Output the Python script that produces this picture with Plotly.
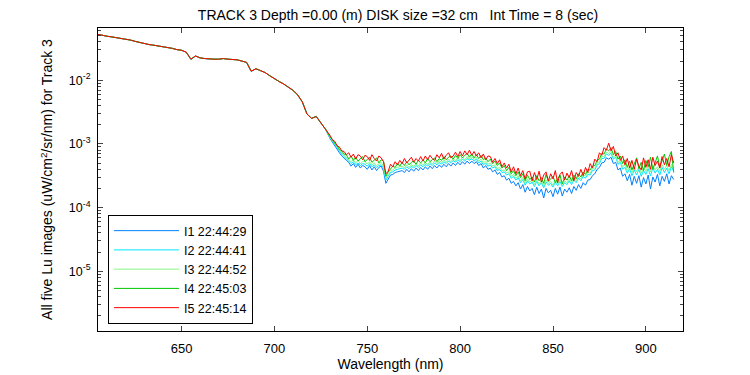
import plotly.graph_objects as go

# Wavelength grids (nm): coarse where all five images overlap, finer in the noisy part
wl_shared = [605 + 2.5 * i for i in range(50)]        # 605 .. 727.5
wl_noisy = [730 + 1.25 * j for j in range(149)]       # 730 .. 915

# log10(Lu) common to all images (605-727.5 nm)
shared_log = [-1.28, -1.30, -1.31, -1.32, -1.33, -1.35, -1.36, -1.37, -1.39, -1.41,
              -1.43, -1.44, -1.45, -1.46, -1.48, -1.49, -1.50, -1.52, -1.53, -1.56,
              -1.67, -1.62, -1.65, -1.66, -1.67, -1.67, -1.67, -1.66, -1.67, -1.67,
              -1.68, -1.70, -1.72, -1.86, -1.82, -1.85, -1.88, -1.93, -1.98, -2.02,
              -2.06, -2.11, -2.16, -2.23, -2.34, -2.53, -2.60, -2.57, -2.67, -2.77]

# log10(Lu) per image, 730-915 nm
I1_log = [-2.92, -2.98, -3.03, -3.09, -3.14, -3.19, -3.23, -3.26,
          -3.29, -3.35, -3.31, -3.37, -3.32, -3.38, -3.34, -3.36,
          -3.40, -3.34, -3.41, -3.36, -3.42, -3.37, -3.35, -3.43,
          -3.62, -3.55, -3.49, -3.48, -3.45, -3.44, -3.43, -3.42,
          -3.45, -3.40, -3.44, -3.39, -3.43, -3.38, -3.42, -3.37,
          -3.41, -3.36, -3.40, -3.35, -3.39, -3.34, -3.38, -3.33,
          -3.37, -3.32, -3.36, -3.31, -3.35, -3.30, -3.34, -3.29,
          -3.33, -3.28, -3.32, -3.27, -3.31, -3.27, -3.31, -3.28,
          -3.34, -3.31, -3.38, -3.34, -3.40, -3.38, -3.44, -3.41,
          -3.48, -3.45, -3.52, -3.50, -3.57, -3.54, -3.62, -3.59,
          -3.66, -3.61, -3.71, -3.64, -3.76, -3.67, -3.74, -3.70,
          -3.80, -3.68, -3.78, -3.71, -3.85, -3.70, -3.77, -3.73,
          -3.83, -3.70, -3.79, -3.68, -3.82, -3.71, -3.76, -3.69,
          -3.78, -3.67, -3.73, -3.64, -3.70, -3.61, -3.65, -3.57,
          -3.56, -3.50, -3.47, -3.40, -3.37, -3.30, -3.29, -3.22,
          -3.24, -3.21, -3.31, -3.29, -3.41, -3.38, -3.51, -3.47,
          -3.58, -3.48, -3.65, -3.51, -3.62, -3.50, -3.68, -3.53,
          -3.63, -3.49, -3.71, -3.52, -3.60, -3.48, -3.66, -3.51,
          -3.59, -3.47, -3.63, -3.50, -3.56]
I2_log = [-2.91, -2.96, -3.01, -3.07, -3.12, -3.16, -3.20, -3.23,
          -3.27, -3.31, -3.28, -3.33, -3.30, -3.34, -3.31, -3.32,
          -3.35, -3.31, -3.36, -3.33, -3.37, -3.34, -3.33, -3.38,
          -3.57, -3.51, -3.45, -3.44, -3.41, -3.40, -3.39, -3.38,
          -3.40, -3.36, -3.39, -3.35, -3.38, -3.34, -3.37, -3.33,
          -3.36, -3.32, -3.35, -3.31, -3.34, -3.30, -3.33, -3.29,
          -3.32, -3.28, -3.31, -3.27, -3.30, -3.26, -3.29, -3.25,
          -3.28, -3.24, -3.27, -3.23, -3.26, -3.23, -3.27, -3.24,
          -3.30, -3.27, -3.33, -3.30, -3.35, -3.33, -3.38, -3.36,
          -3.42, -3.40, -3.45, -3.44, -3.49, -3.47, -3.54, -3.51,
          -3.57, -3.53, -3.61, -3.56, -3.65, -3.58, -3.63, -3.60,
          -3.67, -3.59, -3.66, -3.61, -3.69, -3.60, -3.65, -3.62,
          -3.68, -3.60, -3.66, -3.59, -3.67, -3.61, -3.64, -3.58,
          -3.64, -3.57, -3.61, -3.54, -3.58, -3.51, -3.54, -3.48,
          -3.49, -3.42, -3.41, -3.33, -3.31, -3.23, -3.23, -3.16,
          -3.18, -3.15, -3.24, -3.21, -3.32, -3.29, -3.40, -3.37,
          -3.46, -3.39, -3.50, -3.41, -3.49, -3.40, -3.51, -3.42,
          -3.48, -3.39, -3.50, -3.38, -3.46, -3.40, -3.49, -3.37,
          -3.45, -3.38, -3.47, -3.36, -3.43]
I3_log = [-2.90, -2.95, -3.00, -3.05, -3.10, -3.14, -3.18, -3.21,
          -3.24, -3.28, -3.25, -3.30, -3.26, -3.31, -3.28, -3.27,
          -3.32, -3.28, -3.33, -3.30, -3.34, -3.31, -3.29, -3.35,
          -3.54, -3.48, -3.42, -3.41, -3.38, -3.37, -3.36, -3.35,
          -3.38, -3.33, -3.37, -3.32, -3.36, -3.31, -3.35, -3.30,
          -3.34, -3.29, -3.33, -3.28, -3.32, -3.27, -3.31, -3.26,
          -3.30, -3.25, -3.29, -3.24, -3.28, -3.23, -3.27, -3.22,
          -3.26, -3.21, -3.25, -3.20, -3.24, -3.20, -3.24, -3.21,
          -3.27, -3.24, -3.30, -3.27, -3.32, -3.30, -3.35, -3.33,
          -3.39, -3.37, -3.42, -3.41, -3.46, -3.44, -3.51, -3.48,
          -3.54, -3.50, -3.58, -3.53, -3.62, -3.55, -3.60, -3.57,
          -3.64, -3.56, -3.63, -3.58, -3.66, -3.57, -3.62, -3.59,
          -3.65, -3.57, -3.63, -3.56, -3.64, -3.58, -3.61, -3.55,
          -3.61, -3.54, -3.58, -3.51, -3.55, -3.48, -3.51, -3.45,
          -3.46, -3.39, -3.38, -3.30, -3.28, -3.20, -3.20, -3.13,
          -3.15, -3.12, -3.21, -3.18, -3.29, -3.26, -3.36, -3.33,
          -3.42, -3.35, -3.45, -3.37, -3.44, -3.36, -3.46, -3.38,
          -3.43, -3.35, -3.44, -3.34, -3.41, -3.36, -3.43, -3.33,
          -3.40, -3.34, -3.42, -3.32, -3.39]
I4_log = [-2.89, -2.93, -2.99, -3.03, -3.09, -3.11, -3.16, -3.17,
          -3.24, -3.19, -3.26, -3.21, -3.27, -3.23, -3.20, -3.28,
          -3.24, -3.21, -3.29, -3.26, -3.22, -3.30, -3.25, -3.27,
          -3.51, -3.44, -3.39, -3.35, -3.37, -3.31, -3.35, -3.29,
          -3.34, -3.28, -3.33, -3.29, -3.27, -3.32, -3.26, -3.30,
          -3.25, -3.30, -3.23, -3.28, -3.25, -3.22, -3.28, -3.23,
          -3.26, -3.20, -3.25, -3.21, -3.19, -3.24, -3.18, -3.23,
          -3.17, -3.22, -3.18, -3.15, -3.21, -3.16, -3.22, -3.17,
          -3.23, -3.18, -3.25, -3.22, -3.28, -3.24, -3.31, -3.27,
          -3.34, -3.30, -3.38, -3.34, -3.42, -3.37, -3.47, -3.42,
          -3.50, -3.44, -3.53, -3.47, -3.58, -3.49, -3.56, -3.52,
          -3.60, -3.50, -3.58, -3.53, -3.62, -3.48, -3.59, -3.54,
          -3.51, -3.61, -3.55, -3.49, -3.63, -3.52, -3.57, -3.50,
          -3.58, -3.49, -3.55, -3.47, -3.52, -3.44, -3.48, -3.40,
          -3.41, -3.35, -3.34, -3.26, -3.24, -3.15, -3.16, -3.08,
          -3.11, -3.06, -3.17, -3.12, -3.24, -3.19, -3.31, -3.25,
          -3.37, -3.27, -3.41, -3.30, -3.22, -3.39, -3.29, -3.42,
          -3.26, -3.36, -3.21, -3.40, -3.30, -3.19, -3.37, -3.25,
          -3.16, -3.34, -3.20, -3.12, -3.45]
I5_log = [-2.87, -2.94, -2.96, -3.03, -3.05, -3.11, -3.12, -3.17,
          -3.14, -3.21, -3.16, -3.24, -3.17, -3.19, -3.25, -3.18,
          -3.20, -3.26, -3.17, -3.23, -3.27, -3.19, -3.22, -3.28,
          -3.47, -3.43, -3.32, -3.36, -3.28, -3.33, -3.26, -3.31,
          -3.23, -3.30, -3.25, -3.21, -3.29, -3.23, -3.27, -3.20,
          -3.27, -3.19, -3.25, -3.18, -3.23, -3.26, -3.17, -3.22,
          -3.15, -3.24, -3.18, -3.14, -3.22, -3.19, -3.13, -3.20,
          -3.12, -3.19, -3.11, -3.17, -3.10, -3.18, -3.12, -3.19,
          -3.14, -3.22, -3.16, -3.25, -3.19, -3.20, -3.29, -3.23,
          -3.31, -3.25, -3.36, -3.30, -3.38, -3.32, -3.44, -3.36,
          -3.47, -3.38, -3.50, -3.42, -3.55, -3.44, -3.43, -3.58,
          -3.45, -3.56, -3.43, -3.60, -3.49, -3.44, -3.58, -3.47,
          -3.55, -3.42, -3.61, -3.48, -3.44, -3.57, -3.46, -3.53,
          -3.42, -3.58, -3.45, -3.51, -3.40, -3.50, -3.37, -3.45,
          -3.31, -3.38, -3.24, -3.28, -3.14, -3.18, -3.06, -3.10,
          -2.99, -3.11, -3.04, -3.19, -3.14, -3.26, -3.19, -3.33,
          -3.23, -3.38, -3.26, -3.40, -3.24, -3.35, -3.41, -3.22,
          -3.37, -3.25, -3.40, -3.21, -3.34, -3.27, -3.38, -3.20,
          -3.33, -3.23, -3.36, -3.17, -3.30]

names = ["I1 22:44:29", "I2 22:44:41", "I3 22:44:52", "I4 22:45:03", "I5 22:45:14"]
colors = ["#0080ff", "#00e8ff", "#88f888", "#00c800", "#ff0000"]
series = [I1_log, I2_log, I3_log, I4_log, I5_log]
for s in series:
    assert len(s) == len(wl_noisy), len(s)

y_tickvals = [1e-5, 1e-4, 1e-3, 1e-2]
y_ticktext = ["10<sup>-5</sup>", "10<sup>-4</sup>", "10<sup>-3</sup>", "10<sup>-2</sup>"]
x_tickvals = [650, 700, 750, 800, 850, 900]

fig = go.Figure()
for name, col, s in zip(names, colors, series):
    fig.add_trace(go.Scatter(
        x=wl_shared + wl_noisy, y=[10 ** v for v in shared_log + s],
        mode="lines", name=name, line=dict(color=col, width=1)))

font = "Liberation Sans, Arial, sans-serif"
# the page body adds an 8px offset, so the figure is 742x367 inside the 750x375 window
fig.update_layout(
    width=742, height=367,
    margin=dict(l=90, r=67, t=20, b=44),
    paper_bgcolor="white", plot_bgcolor="white",
    font=dict(family=font, size=13, color="black"),
    title=dict(text="TRACK 3 Depth =0.00 (m) DISK size =32 cm   Int Time = 8 (sec)",
               x=0.5256, xanchor="center", y=0.982, yanchor="middle",
               font=dict(size=14)),
    xaxis=dict(range=[605, 920], tickvals=x_tickvals, ticks="inside", ticklen=5,
               showline=True, linecolor="black", linewidth=1, mirror="ticks",
               showgrid=False, zeroline=False, automargin=False, ticklabelstandoff=5,
               title=dict(text="Wavelength (nm)", standoff=4, font=dict(size=14)),
               tickfont=dict(size=13)),
    yaxis=dict(type="log", range=[-5.94, -1.18], tickvals=y_tickvals, ticktext=y_ticktext,
               ticks="inside", ticklen=5, ticklabelstandoff=4,
               minor=dict(ticks="inside", ticklen=3, dtick="D1", showgrid=False),
               showline=True, linecolor="black", linewidth=1, mirror="ticks",
               showgrid=False, zeroline=False, automargin=False,
               title=dict(text="All five Lu images (uW/cm<sup>2</sup>/sr/nm) for Track 3",
                          standoff=12, font=dict(size=14)),
               tickfont=dict(size=12.5)),
    legend=dict(x=0.017, y=0.023, xanchor="left", yanchor="bottom",
                bordercolor="black", borderwidth=1, bgcolor="white",
                font=dict(size=12.5), itemwidth=65, tracegroupgap=0),
    showlegend=True,
)

fig.write_html("out.html")
